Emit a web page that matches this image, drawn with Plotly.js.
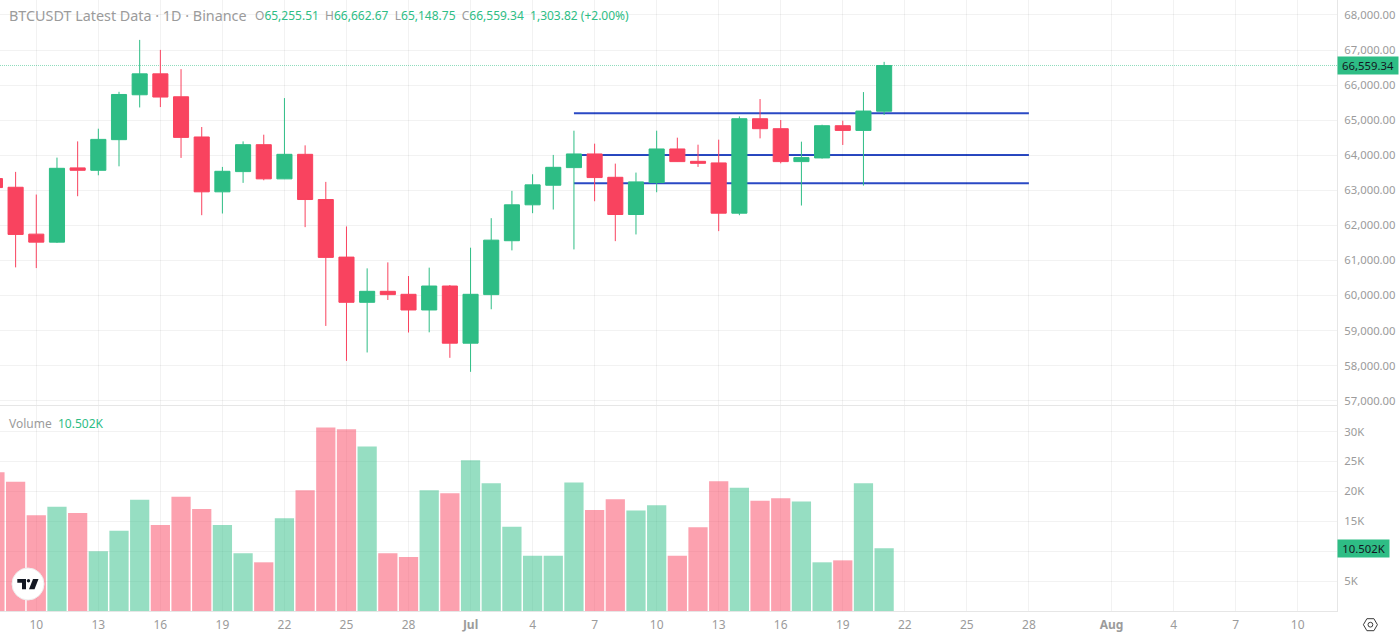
<!DOCTYPE html>
<html>
<head>
<meta charset="utf-8">
<title>BTCUSDT Latest Data</title>
<script src="https://cdn.plot.ly/plotly-3.0.1.min.js"></script>
<style>
  html, body { margin: 0; padding: 0; background: #ffffff; }
</style>
</head>
<body>
<div id="myDiv" style="width:1400px;height:634px"></div>
<script>
// BTCUSDT daily candles and volume

const dates = [
  '2024-06-08', '2024-06-09', '2024-06-10', '2024-06-11', '2024-06-12', '2024-06-13', '2024-06-14',
  '2024-06-15', '2024-06-16', '2024-06-17', '2024-06-18', '2024-06-19', '2024-06-20', '2024-06-21',
  '2024-06-22', '2024-06-23', '2024-06-24', '2024-06-25', '2024-06-26', '2024-06-27', '2024-06-28',
  '2024-06-29', '2024-06-30', '2024-07-01', '2024-07-02', '2024-07-03', '2024-07-04', '2024-07-05',
  '2024-07-06', '2024-07-07', '2024-07-08', '2024-07-09', '2024-07-10', '2024-07-11', '2024-07-12',
  '2024-07-13', '2024-07-14', '2024-07-15', '2024-07-16', '2024-07-17', '2024-07-18', '2024-07-19',
  '2024-07-20', '2024-07-21'
];

const opens = [
  63334, 63087, 61750, 61522, 63639, 63570, 64444,
  65724, 66321, 65667, 64521, 62956, 63533, 64301,
  63326, 64026, 62737, 61095, 59806, 60119, 60034,
  59587, 60270, 58640, 60025, 61562, 62586, 63145,
  63647, 64037, 63371, 62310, 63220, 64179, 63826,
  63781, 62347, 65041, 64757, 63818, 63923, 64842,
  64708, 65255.51
];

const highs = [
  63334, 63525, 62879, 63932, 64395, 64757, 65809,
  67289, 67004, 66455, 64805, 63667, 64395, 64586,
  65630, 64282, 63240, 61969, 60774, 60944, 60555,
  60794, 60299, 61363, 62205, 62984, 63457, 64009,
  64700, 64330, 63761, 63505, 64700, 64501, 64301,
  64444, 65107, 65602, 65004, 64387, 64870, 64984,
  65801, 66662.67
];

const lows = [
  63078, 60802, 60782, 61500, 62831, 63428, 63684,
  65363, 65374, 63923, 62290, 62338, 63212, 63286,
  63320, 61949, 59132, 58136, 58375, 59872, 58944,
  58950, 58222, 57823, 59607, 61286, 62347, 62452,
  61314, 62688, 61550, 61741, 62944, 63810, 63667,
  61835, 62290, 64481, 63769, 62566, 63905, 64293,
  63135, 65148.75
];

const closes = [
  63078, 61741, 61522, 63627, 63570, 64452, 65733,
  66321, 65659, 64509, 62956, 63542, 64301, 63326,
  64026, 62737, 61087, 59806, 60119, 60025, 59587,
  60270, 58640, 60034, 61579, 62586, 63155, 63656,
  64037, 63363, 62310, 63240, 64179, 63818, 63769,
  62347, 65041, 64757, 63818, 63932, 64842, 64708,
  65260, 66559.34
];

const volumes = [
  23200, 21600, 16000, 17450, 16400, 10000, 13400,
  18600, 14400, 19100, 17060, 14400, 9640, 8140,
  15500, 20200, 30700, 30400, 27500, 9640, 9030,
  20200, 19700, 25200, 21350, 14100, 9250, 9250,
  21500, 16900, 18700, 16800, 17700, 9250, 14000,
  21700, 20600, 18450, 18850, 18300, 8140, 8470,
  21350, 10502
];

// horizontal levels drawn on the chart
const levels = [65200, 64008, 63200];
const levelStart = '2024-07-06';
const levelEnd = '2024-07-28';

const lastPrice = 66559.34;
const lastVolume = 10502;

const dateTicks = [
  '2024-06-10', '2024-06-13', '2024-06-16', '2024-06-19', '2024-06-22', '2024-06-25', '2024-06-28',
  '2024-07-01', '2024-07-04', '2024-07-07', '2024-07-10', '2024-07-13', '2024-07-16', '2024-07-19',
  '2024-07-22', '2024-07-25', '2024-07-28', '2024-08-01', '2024-08-04', '2024-08-07', '2024-08-10'
];
const dateLabels = [
  '10', '13', '16', '19', '22', '25', '28',
  '<b>Jul</b>', '4', '7', '10', '13', '16', '19',
  '22', '25', '28', '<b>Aug</b>', '4', '7', '10'
];

const volumeTicks = [5000, 10000, 15000, 20000, 25000, 30000];
const volumeLabels = ['5K', '', '15K', '20K', '25K', '30K'];

const green = '#2ebd85';
const red = '#f9435f';
const greenVol = 'rgba(46,189,133,0.5)';
const redVol = 'rgba(249,67,95,0.5)';
// grid sits above below-layer shapes, so it has to be see-through
const gridColor = 'rgba(0,0,0,0.05)';
const borderColor = '#e6e6e6';
const textColor = '#9b9b9b';
const blue = '#2a49c4';
const fontName = '"Noto Sans", sans-serif';

const xRange = ['2024-06-08 05:53', '2024-08-11 21:36'];

let volumeColors = [];
for (let i = 0; i < dates.length; i++) {
  volumeColors.push(closes[i] >= opens[i] ? greenVol : redVol);
}

let volumeTrace = {
  type: 'bar',
  x: dates,
  y: volumes,
  xaxis: 'x',
  yaxis: 'y2',
  marker: { color: volumeColors, line: { width: 0 } },
  hoverinfo: 'skip'
};

let candleTrace = {
  type: 'candlestick',
  x: dates,
  open: opens,
  high: highs,
  low: lows,
  close: closes,
  xaxis: 'x2',
  yaxis: 'y',
  whiskerwidth: 0,
  increasing: { line: { color: green, width: 1 }, fillcolor: green },
  decreasing: { line: { color: red, width: 1 }, fillcolor: red },
  hoverinfo: 'skip'
};

// levels go under the candles, so they are shapes on the below layer
let shapes = [];
for (let i = 0; i < levels.length; i++) {
  shapes.push({
    type: 'line', layer: 'below', xref: 'x2', yref: 'y',
    x0: levelStart, x1: levelEnd, y0: levels[i], y1: levels[i],
    line: { color: blue, width: 2 }
  });
}

// last price dotted line
shapes.push({
  type: 'line', layer: 'below', xref: 'paper', yref: 'y',
  x0: 0, x1: 1, y0: lastPrice, y1: lastPrice,
  line: { color: '#8edcbd', width: 1, dash: '1px,1px' }
});

// TradingView badge, pixel sized from bottom left of the plot
const badge = { xref: 'paper', yref: 'paper', xsizemode: 'pixel', ysizemode: 'pixel', xanchor: 0, yanchor: 0 };
shapes.push(Object.assign({}, badge, {
  type: 'circle', x0: 12, x1: 44, y0: 11, y1: 43,
  fillcolor: '#ffffff', line: { color: '#eeeeee', width: 1 }
}));
shapes.push(Object.assign({}, badge, {
  type: 'path', path: 'M17.3,32 H26 V21.7 H22 V28.3 H17.3 Z',
  fillcolor: '#131722', line: { width: 0 }
}));
shapes.push(Object.assign({}, badge, {
  type: 'circle', x0: 26.8, x1: 30.2, y0: 28.5, y1: 32,
  fillcolor: '#131722', line: { width: 0 }
}));
shapes.push(Object.assign({}, badge, {
  type: 'path', path: 'M33,32 H38.5 L34.5,21.7 H29 Z',
  fillcolor: '#131722', line: { width: 0 }
}));

// settings icon under the price axis
const gear = { xref: 'paper', yref: 'paper', xsizemode: 'pixel', ysizemode: 'pixel', xanchor: 1, yanchor: 0 };
shapes.push(Object.assign({}, gear, {
  type: 'path', path: 'M26.4,-13.7 L29.9,-7.7 H36.9 L40.4,-13.7 L36.9,-19.7 H29.9 Z',
  fillcolor: 'rgba(0,0,0,0)', line: { color: '#3a3a3a', width: 1 }
}));
shapes.push(Object.assign({}, gear, {
  type: 'circle', x0: 31, x1: 35.8, y0: -16.1, y1: -11.3,
  fillcolor: 'rgba(0,0,0,0)', line: { color: '#3a3a3a', width: 1 }
}));

function legendText(text, xshift, yshift, size) {
  return {
    xref: 'paper', yref: 'paper', x: 0, y: 1, xanchor: 'left', yanchor: 'middle',
    xshift: xshift, yshift: yshift, showarrow: false, text: text,
    font: { family: fontName, size: size, color: textColor }
  };
}

function greenSpan(s) {
  return '<span style="color:' + green + '">' + s + '</span>';
}

let annotations = [
  legendText('BTCUSDT Latest Data · 1D · Binance', 7, -15, 14.35),
  legendText('O' + greenSpan('65,255.51') + '  H' + greenSpan('66,662.67') + '  L' + greenSpan('65,148.75') +
    '  C' + greenSpan('66,559.34') + '  ' + greenSpan('1,303.82 (+2.00%)'), 253, -15, 12),
  {
    xref: 'paper', yref: 'paper', x: 0, y: 0.3355, xanchor: 'left', yanchor: 'middle',
    xshift: 7, yshift: -17, showarrow: false,
    text: 'Volume  ' + greenSpan('10.502K'),
    font: { family: fontName, size: 12, color: textColor }
  },
  {
    xref: 'paper', yref: 'y', x: 1, y: lastPrice, xanchor: 'left', yanchor: 'middle',
    showarrow: false, text: '66,559.34', width: 58, height: 15, bgcolor: green, borderpad: 1,
    font: { family: fontName, size: 11.3, color: '#131722' }
  },
  {
    xref: 'paper', yref: 'y2', x: 1, y: lastVolume, xanchor: 'left', yanchor: 'middle',
    showarrow: false, text: '10.502K', width: 49, height: 15, bgcolor: green, borderpad: 1,
    font: { family: fontName, size: 11.3, color: '#131722' }
  }
];

let layout = {
  width: 1400,
  height: 634,
  margin: { l: 0, r: 63, t: 0, b: 23, pad: 0 },
  paper_bgcolor: '#ffffff',
  plot_bgcolor: '#ffffff',
  showlegend: false,
  hovermode: false,
  dragmode: false,
  bargap: 0.07,
  boxgap: 0.27,
  boxgroupgap: 0,
  font: { family: fontName, size: 11.3, color: textColor },
  xaxis: {
    type: 'date', anchor: 'y2', range: xRange, domain: [0, 1],
    tickmode: 'array', tickvals: dateTicks, ticktext: dateLabels,
    showgrid: true, gridcolor: gridColor, gridwidth: 1, zeroline: false,
    showline: true, linecolor: borderColor, linewidth: 1,
    ticks: '', tickangle: 0, ticklabelstandoff: 3,
    tickfont: { family: fontName, size: 12, color: textColor },
    rangeslider: { visible: false }
  },
  xaxis2: {
    type: 'date', anchor: 'y', matches: 'x', range: xRange, domain: [0, 1],
    tickmode: 'array', tickvals: dateTicks, showticklabels: false,
    showgrid: true, gridcolor: gridColor, gridwidth: 1, zeroline: false,
    showline: true, linecolor: borderColor, linewidth: 1,
    ticks: '',
    rangeslider: { visible: false }
  },
  yaxis: {
    domain: [0.3372, 1], range: [56878, 68427], side: 'right',
    tickmode: 'linear', tick0: 57000, dtick: 1000, tickformat: ',.2f',
    showgrid: true, gridcolor: gridColor, gridwidth: 1, zeroline: false,
    showline: true, mirror: true, linecolor: borderColor, linewidth: 1,
    ticks: '', ticklabelstandoff: 4,
    tickfont: { family: fontName, size: 11.3, color: textColor }
  },
  yaxis2: {
    domain: [0, 0.3355], range: [0, 34280], side: 'right',
    tickmode: 'array', tickvals: volumeTicks, ticktext: volumeLabels,
    showgrid: true, gridcolor: gridColor, gridwidth: 1, zeroline: false,
    showline: true, mirror: true, linecolor: borderColor, linewidth: 1,
    ticks: '', ticklabelstandoff: 4,
    tickfont: { family: fontName, size: 11.3, color: textColor }
  },
  shapes: shapes,
  annotations: annotations
};

Plotly.newPlot('myDiv', [volumeTrace, candleTrace], layout, { displayModeBar: false, staticPlot: true });
</script>
</body>
</html>
